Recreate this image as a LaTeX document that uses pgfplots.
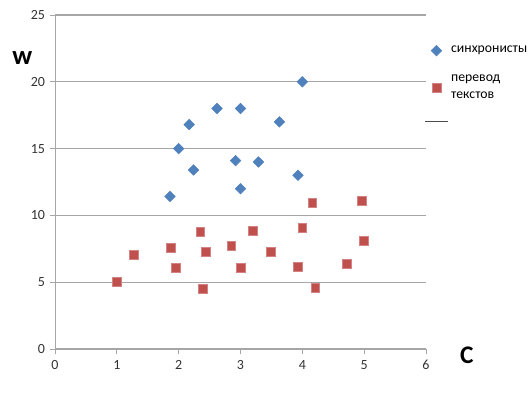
\documentclass[border=0pt]{standalone}
\usepackage{fontspec}
\setmainfont{Carlito}
\usepackage{pgfplots}
\pgfplotsset{compat=1.18}
\definecolor{xlblue}{HTML}{4F81BD}
\definecolor{xlred}{HTML}{C0504D}
\definecolor{gridgray}{HTML}{A6A6A6}
\begin{document}
\begin{tikzpicture}[x=0.75pt,y=0.75pt]
\path (0,0) rectangle (530,395);
\begin{axis}[
  at={(55pt*0.75,46pt*0.75)}, anchor=south west,
  scale only axis, width=278.25pt, height=250.5pt,
  xmin=0, xmax=6, ymin=0, ymax=25,
  xtick={0,...,6}, ytick={0,5,...,25},
  axis x line*=bottom, axis y line*=left,
  axis line style={gridgray, -},
  ymajorgrids, grid style={gridgray, line width=0.9pt},
  tick style={gridgray, line width=0.6pt},
  tick align=outside, major tick length=4pt,
  x tick label style={yshift=-1pt},
  ticklabel style={font=\fontsize{10.5}{12}\selectfont, text=black!80},
  /pgf/number format/assume math mode=true,
  clip=false,
  legend style={overlay, draw=none, fill=none, at={(0.995,0.915)}, anchor=north west,
    font=\fontsize{10.3}{12.5}\selectfont, cells={align=left, anchor=west},
    row sep=11pt, inner sep=0pt},
  legend cell align=left,
]
\addplot[only marks, mark=square*, mark size=2.8pt, color=xlblue, mark options={fill=xlblue, draw=xlblue, rotate=45}] coordinates {
(1.86,11.42) (2.0,15.0) (2.17,16.8) (2.24,13.4) (2.62,18.0) (2.92,14.1)
(3.0,18.0) (3.0,12.0) (3.29,14.0) (3.63,17.0) (3.93,13.0) (4.0,20.0)
};
\addlegendentry{синхронисты}
\addplot[only marks, mark=square*, mark size=3.3pt, color=xlred, mark options={fill=xlred, draw=xlred!70}] coordinates {
(1.0,5.03) (1.27,7.03) (1.87,7.55) (1.95,6.06) (2.35,8.75) (2.39,4.51)
(2.44,7.28) (2.85,7.7) (3.0,6.06) (3.2,8.87) (3.49,7.28) (3.92,6.18)
(4.0,9.05) (4.16,10.94) (4.21,4.56) (4.72,6.36) (4.96,11.12) (4.99,8.08)
};
\addlegendentry{перевод\\текстов}
\addlegendimage{black!70, line width=1pt}
\addlegendentry{}
\node[font=\bfseries\fontsize{20}{20}\selectfont, anchor=center] at (rel axis cs:-0.088,0.87) {w};
\node[font=\bfseries\fontsize{19}{19}\selectfont, anchor=center] at (rel axis cs:1.11,-0.02) {C};
\end{axis}
\end{tikzpicture}
\end{document}
